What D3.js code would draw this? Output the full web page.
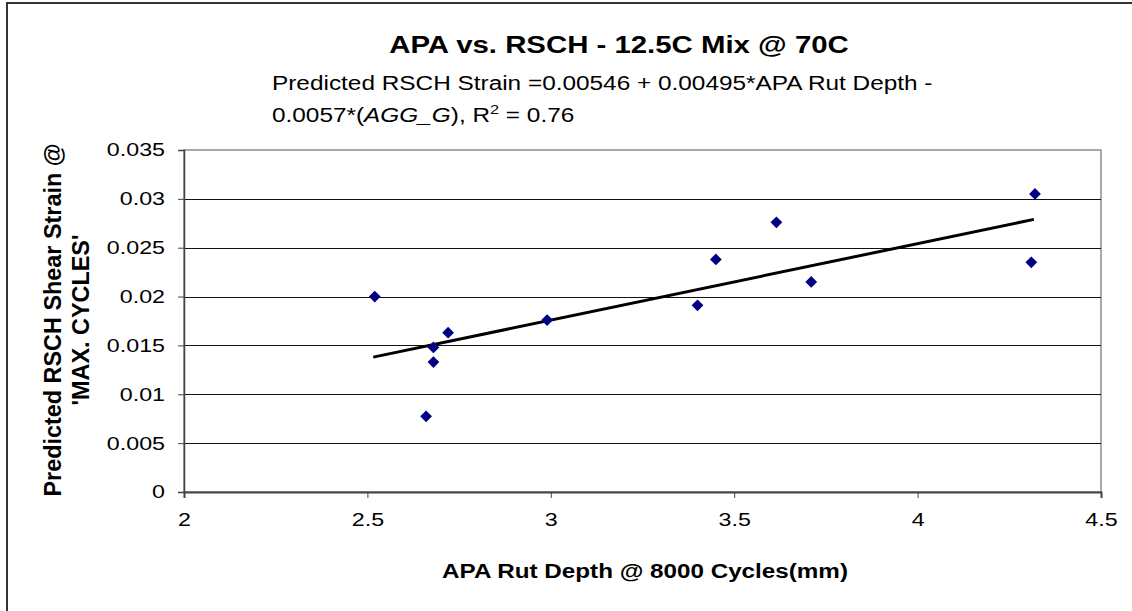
<!DOCTYPE html>
<html>
<head>
<meta charset="utf-8">
<script src="https://cdn.jsdelivr.net/npm/d3@7"></script>
<style>
  body { margin: 0; background: #fff; }
  svg text { font-family: "Liberation Sans", Arial, sans-serif; fill: #000; }
</style>
</head>
<body>
<div id="chart"></div>
<script>
// APA rut depth (mm) and predicted RSCH shear strain
var rutDepth = [2.52, 2.66, 2.68, 2.68, 2.72, 2.99, 3.40, 3.45, 3.615, 3.71, 4.31, 4.32];
var shearStrain = [0.0200, 0.00775, 0.0133, 0.0148, 0.0163, 0.0176, 0.0191, 0.0238, 0.0276, 0.0215, 0.0235, 0.0305];
// trend line end points
var trendX = [2.516, 4.317];
var trendY = [0.0138, 0.0279];
var xTicks = [2, 2.5, 3, 3.5, 4, 4.5];
var yTicks = [0, 0.005, 0.01, 0.015, 0.02, 0.025, 0.03, 0.035];

var width = 1132, height = 611;
var plot = { left: 184, top: 150, right: 1101, bottom: 492 };
var stretch = 1.25; // text in the original is wide

var svg = d3.select("#chart").append("svg")
    .attr("width", width)
    .attr("height", height);

// outer chart border (only top and left are inside the picture)
svg.append("rect")
    .attr("x", 7).attr("y", 3)
    .attr("width", 1300).attr("height", 800)
    .attr("fill", "none")
    .attr("stroke", "#333")
    .attr("stroke-width", 2);

var x = d3.scaleLinear().domain([2, 4.5]).range([plot.left, plot.right]);
var y = d3.scaleLinear().domain([0, 0.035]).range([plot.bottom, plot.top]);

// plot frame
svg.append("rect")
    .attr("x", plot.left).attr("y", plot.top)
    .attr("width", plot.right - plot.left)
    .attr("height", plot.bottom - plot.top)
    .attr("fill", "none")
    .attr("stroke", "#8c8c8c")
    .attr("stroke-width", 1.5);

// gridlines
svg.append("g")
    .selectAll("line")
    .data(yTicks.filter(function (d) { return d > 0 && d < 0.035; }))
    .enter().append("line")
    .attr("x1", plot.left).attr("x2", plot.right)
    .attr("y1", function (d) { return Math.round(y(d)) + 0.5; })
    .attr("y2", function (d) { return Math.round(y(d)) + 0.5; })
    .attr("stroke", "#111")
    .attr("stroke-width", 1);

var yAxis = d3.axisLeft(y).tickValues(yTicks).tickSize(6)
    .tickFormat(function (d) { return String(+d.toFixed(3)); });
var gy = svg.append("g")
    .attr("transform", "translate(" + plot.left + ",0)")
    .call(yAxis);
gy.select(".domain").attr("stroke", "#444").attr("stroke-width", 1.5);
gy.selectAll(".tick line").attr("stroke", "#444");
gy.selectAll("text")
    .attr("x", 0)
    .attr("transform", "translate(-19,0) scale(" + stretch + ",1)")
    .attr("font-size", 18.6)
    .attr("fill", "#000")
    .attr("font-family", "Liberation Sans, Arial, sans-serif");

var xAxis = d3.axisBottom(x).tickValues(xTicks).tickSize(6).tickPadding(15)
    .tickFormat(d3.format(""));
var gx = svg.append("g")
    .attr("transform", "translate(0," + plot.bottom + ")")
    .call(xAxis);
gx.select(".domain").attr("stroke", "#444").attr("stroke-width", 2);
gx.selectAll(".tick line").attr("stroke", "#444");
gx.selectAll("text")
    .attr("transform", "scale(" + stretch + ",1)")
    .attr("font-size", 18.6)
    .attr("fill", "#000")
    .attr("font-family", "Liberation Sans, Arial, sans-serif");

// trend line
svg.append("line")
    .attr("x1", x(trendX[0])).attr("y1", y(trendY[0]))
    .attr("x2", x(trendX[1])).attr("y2", y(trendY[1]))
    .attr("stroke", "#000")
    .attr("stroke-width", 3);

// data points
var diamond = d3.symbol().type(d3.symbolDiamond2).size(88);
svg.append("g")
    .selectAll("path")
    .data(rutDepth.map(function (d, i) { return { x: d, y: shearStrain[i] }; }))
    .enter().append("path")
    .attr("d", diamond)
    .attr("transform", function (d) { return "translate(" + x(d.x) + "," + y(d.y) + ")"; })
    .attr("fill", "#000080");

function label(px, py, size) {
    return svg.append("text")
        .attr("transform", "translate(" + px + "," + py + ") scale(" + stretch + ",1)")
        .attr("font-size", size);
}

// titles
label(619, 53, 23.5).attr("text-anchor", "middle").attr("font-weight", "bold")
    .text("APA vs. RSCH - 12.5C Mix @ 70C");

label(272, 90, 19.5)
    .text("Predicted RSCH Strain =0.00546 + 0.00495*APA Rut Depth -");

var sub2 = label(272, 122, 19.5);
sub2.append("tspan").text("0.0057*(");
sub2.append("tspan").attr("font-style", "italic").text("AGG_G");
sub2.append("tspan").text("), R");
sub2.append("tspan").attr("font-size", 13).attr("dy", -8).text("2");
sub2.append("tspan").attr("dy", 8).text(" = 0.76");

// axis titles
label(645, 578, 19.4).attr("text-anchor", "middle").attr("font-weight", "bold")
    .text("APA Rut Depth @ 8000 Cycles(mm)");

var yl = svg.append("text")
    .attr("transform", "translate(61,320) rotate(-90)")
    .attr("text-anchor", "middle")
    .attr("font-size", 23.4)
    .attr("font-weight", "bold");
yl.append("tspan").attr("x", 0).attr("dy", 0).text("Predicted RSCH Shear Strain @");
yl.append("tspan").attr("x", 0).attr("dy", 28).text("'MAX. CYCLES'");
</script>
</body>
</html>
